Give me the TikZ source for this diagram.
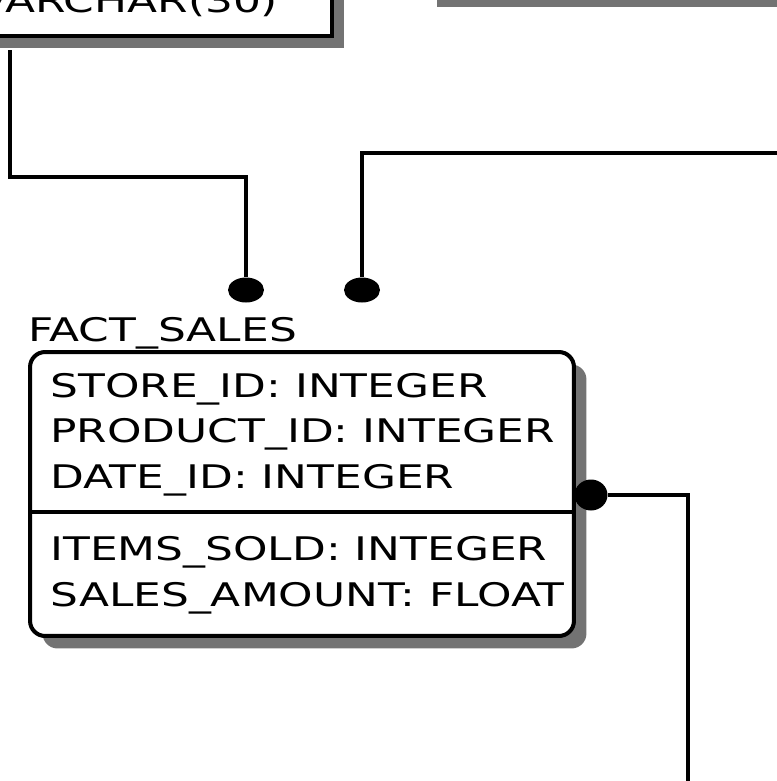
\documentclass[tikz,border=0pt]{standalone}
\usepackage{fontspec}
\setmainfont{DejaVu Sans}[FakeStretch=1.35]
\usetikzlibrary{positioning,shapes.geometric,shadows}

\begin{document}
\begin{tikzpicture}[
        x=0.02cm, y=-0.02cm,
        table/.style={
            draw=black,
            line width=2.3pt,
            fill=white,
            inner sep=0pt,
            drop shadow={shadow xshift=0.25cm, shadow yshift=-0.25cm,
                fill=black!55, opacity=1}
        },
        field/.style={anchor=base west, inner sep=0pt,
            font=\fontsize{18.5}{22}\selectfont},
        keydot/.style={ellipse, fill=black, inner sep=0pt,
            minimum width=0.72cm, minimum height=0.5cm},
        link/.style={line width=2.2pt, black}
    ]
        \useasboundingbox (0,0) rectangle (777,781);
        \clip (0,0) rectangle (777,781);

        % dimension tables, cut off by the frame
        \node[table, minimum width=7.84cm, minimum height=2.32cm] (storedim) at (136,-22) {};
        \node[field] (storetype) at (-22,12) {VARCHAR(30)};
        \node[table, minimum width=9.52cm, minimum height=2.2cm] (productdim) at (662,-60) {};

        % fact table
        \node[field] (facttitle) at (28,341) {FACT\_SALES};
        \node[table, rounded corners=0.3cm, minimum width=10.88cm,
            minimum height=5.68cm] (factsales) at (302,494) {};
        \node[field] (storeid) at (50,397) {STORE\_ID: INTEGER};
        \node[field, below=0.92cm of storeid.base west, anchor=base west] (productid) {PRODUCT\_ID: INTEGER};
        \node[field, below=0.92cm of productid.base west, anchor=base west] (dateid) {DATE\_ID: INTEGER};
        \node[field, below=1.44cm of dateid.base west, anchor=base west] (itemssold) {ITEMS\_SOLD: INTEGER};
        \node[field, below=0.92cm of itemssold.base west, anchor=base west] (salesamount) {SALES\_AMOUNT: FLOAT};
        \draw[line width=2.3pt] (factsales.west) ++(0,18) coordinate (split) -- (split -| factsales.east);

        % foreign key ends
        \node[keydot] (storekey) at (246,290) {};
        \node[keydot] (productkey) at (362,290) {};
        \node[keydot, minimum width=0.66cm, minimum height=0.62cm] (datekey) at (591,495) {};

        \coordinate (productexit) at (777,153);
        \coordinate (dateexit) at (688,781);

        \draw[link] (storedim.south west) ++(72,12) -- ++(0,127) -| (storekey.north);
        \draw[link] (productexit) -| (productkey.north);
        \draw[link] (datekey.east) -| (dateexit);
    \end{tikzpicture}
\end{document}
